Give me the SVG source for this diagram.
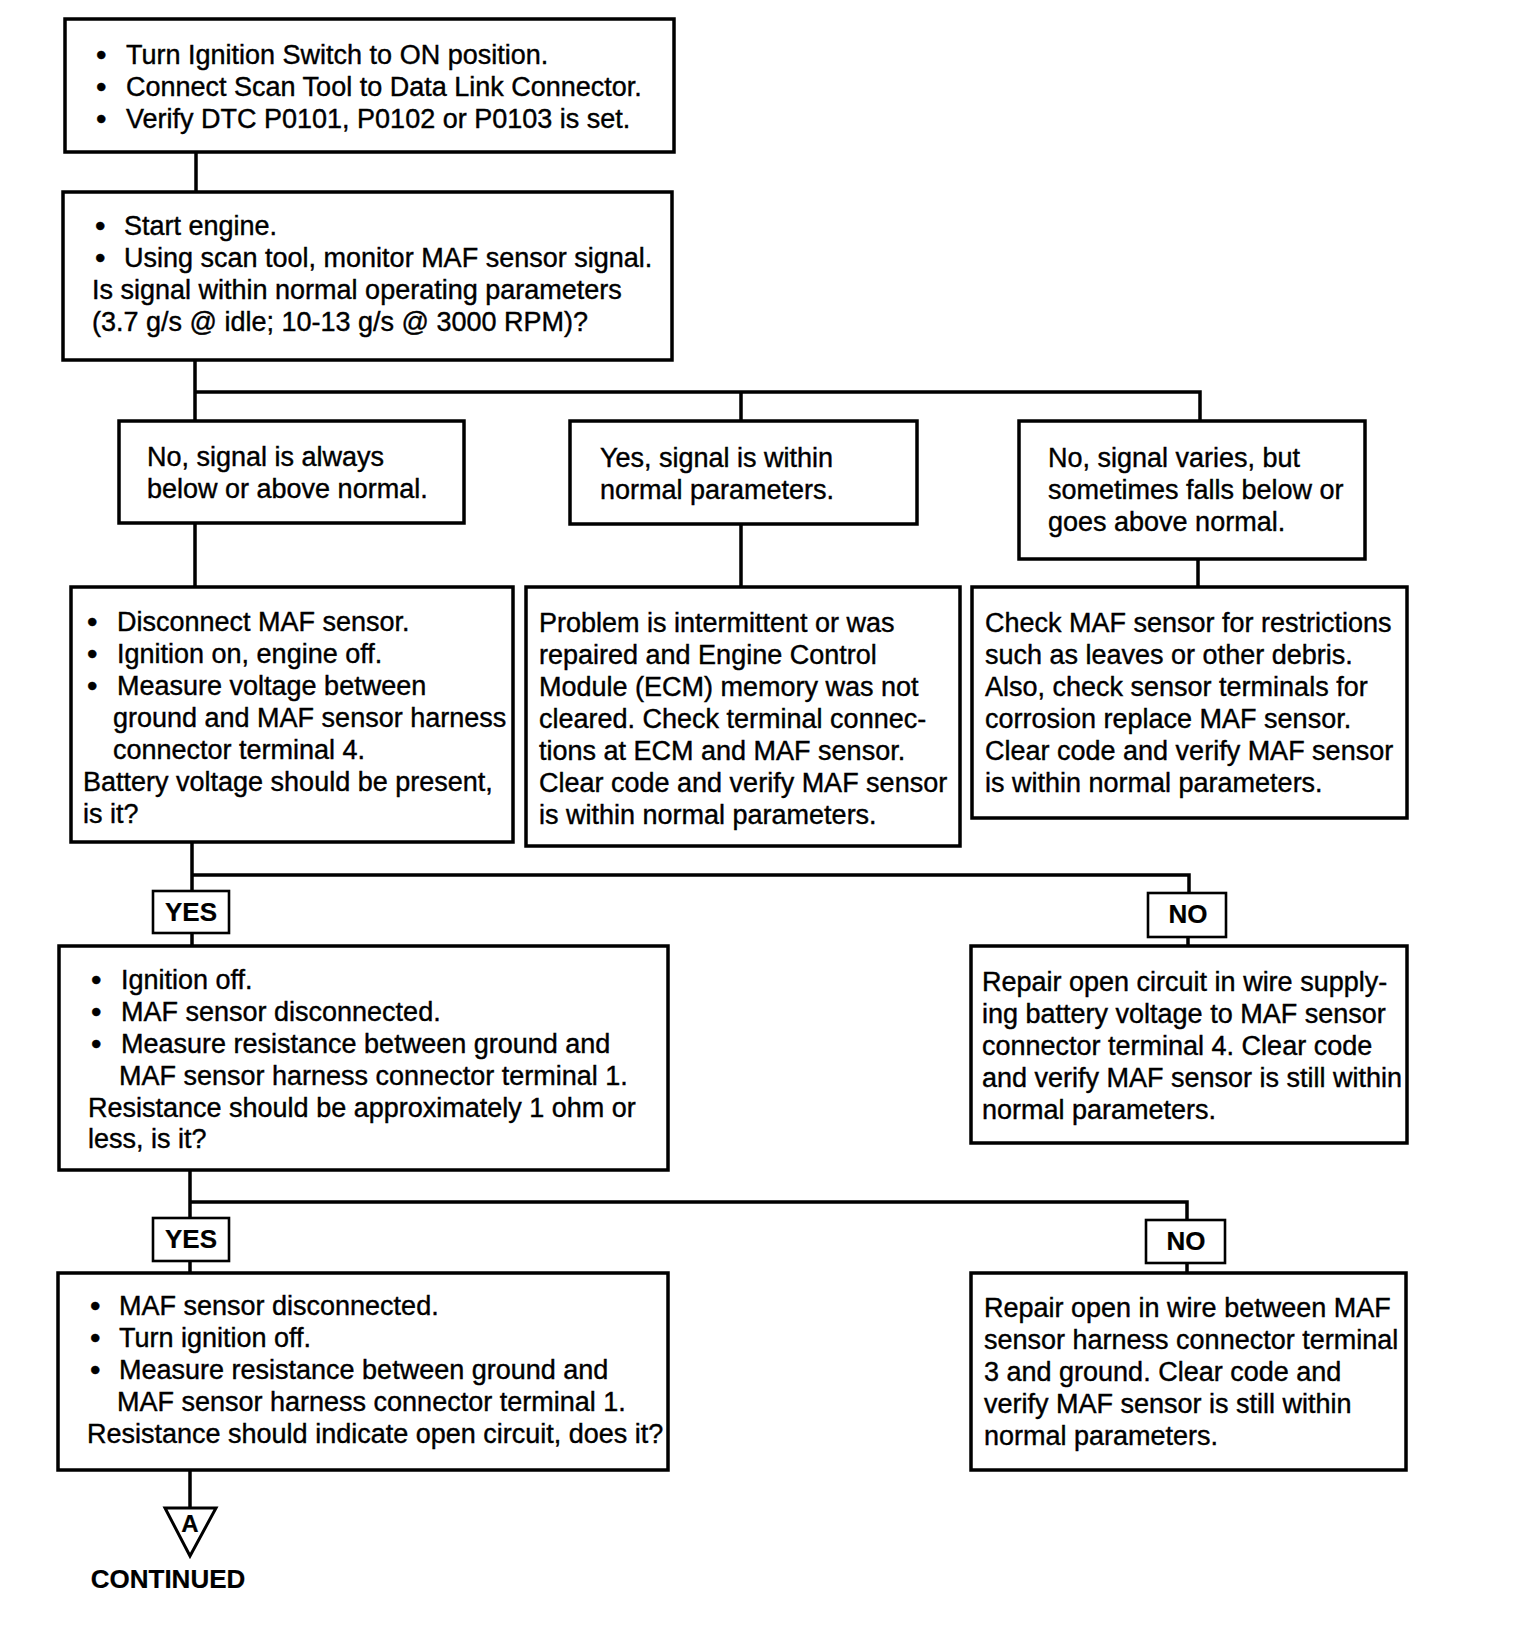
<svg xmlns="http://www.w3.org/2000/svg" width="1520" height="1644" viewBox="0 0 1520 1644">
<style>
.bx{fill:#fff;stroke:#000;stroke-width:3.5}
.lb{fill:#fff;stroke:#000;stroke-width:2.6}
.cn{fill:none;stroke:#000;stroke-width:3.5}
text{font-family:"Liberation Sans",Arial,sans-serif;font-size:27px;fill:#000;stroke:#000;stroke-width:0.4}
.u{font-size:30px}
.b{font-weight:bold;font-size:26px;text-anchor:middle;stroke-width:0.2}
</style>
<rect width="1520" height="1644" fill="#fff"/>
<g id="connectors">
<path class="cn" d="M196 152V192"/>
<path class="cn" d="M195 360V421M195 392H1200V421M741 392V421"/>
<path class="cn" d="M195 523V587M741 524V587M1198 559V587"/>
<path class="cn" d="M192 842V891M192 875H1189V893M192 933V946M1188 937V946"/>
<path class="cn" d="M190 1170V1218M190 1202H1187V1220M190 1261V1273M1187 1263V1273"/>
<path class="cn" d="M190 1470V1508"/>
</g>
<g id="n1">
<rect class="bx" x="65" y="19" width="609" height="133"/>
<text class="u" x="96" y="65">•</text><text x="126" y="64">Turn Ignition Switch to ON position.</text>
<text class="u" x="96" y="97">•</text><text x="126" y="96">Connect Scan Tool to Data Link Connector.</text>
<text class="u" x="96" y="129">•</text><text x="126" y="128">Verify DTC P0101, P0102 or P0103 is set.</text>
</g>
<g id="n2">
<rect class="bx" x="63" y="192" width="609" height="168"/>
<text class="u" x="95" y="236">•</text><text x="124" y="235">Start engine.</text>
<text class="u" x="95" y="268">•</text><text x="124" y="267">Using scan tool, monitor MAF sensor signal.</text>
<text x="92" y="299">Is signal within normal operating parameters</text>
<text x="92" y="331">(3.7 g/s @ idle; 10-13 g/s @ 3000 RPM)?</text>
</g>
<g id="n3a">
<rect class="bx" x="119" y="421" width="345" height="102"/>
<text x="147" y="466">No, signal is always</text>
<text x="147" y="498">below or above normal.</text>
</g>
<g id="n3b">
<rect class="bx" x="570" y="421" width="347" height="103"/>
<text x="600" y="467">Yes, signal is within</text>
<text x="600" y="499">normal parameters.</text>
</g>
<g id="n3c">
<rect class="bx" x="1019" y="421" width="346" height="138"/>
<text x="1048" y="467">No, signal varies, but</text>
<text x="1048" y="499">sometimes falls below or</text>
<text x="1048" y="531">goes above normal.</text>
</g>
<g id="n4a">
<rect class="bx" x="71" y="587" width="442" height="255"/>
<text class="u" x="87" y="632">•</text><text x="117" y="631">Disconnect MAF sensor.</text>
<text class="u" x="87" y="664">•</text><text x="117" y="663">Ignition on, engine off.</text>
<text class="u" x="87" y="696">•</text><text x="117" y="695">Measure voltage between</text>
<text x="113" y="727">ground and MAF sensor harness</text>
<text x="113" y="759">connector terminal 4.</text>
<text x="83" y="791">Battery voltage should be present,</text>
<text x="83" y="823">is it?</text>
</g>
<g id="n4b">
<rect class="bx" x="526" y="587" width="434" height="259"/>
<text x="539" y="632">Problem is intermittent or was</text>
<text x="539" y="664">repaired and Engine Control</text>
<text x="539" y="696">Module (ECM) memory was not</text>
<text x="539" y="728">cleared. Check terminal connec-</text>
<text x="539" y="760">tions at ECM and MAF sensor.</text>
<text x="539" y="792">Clear code and verify MAF sensor</text>
<text x="539" y="824">is within normal parameters.</text>
</g>
<g id="n4c">
<rect class="bx" x="972" y="587" width="435" height="231"/>
<text x="985" y="632">Check MAF sensor for restrictions</text>
<text x="985" y="664">such as leaves or other debris.</text>
<text x="985" y="696">Also, check sensor terminals for</text>
<text x="985" y="728">corrosion replace MAF sensor.</text>
<text x="985" y="760">Clear code and verify MAF sensor</text>
<text x="985" y="792">is within normal parameters.</text>
</g>
<g id="yes1">
<rect class="lb" x="153" y="891" width="76" height="42"/>
<text class="b" x="191" y="921">YES</text>
</g>
<g id="no1">
<rect class="lb" x="1148" y="893" width="78" height="44"/>
<text class="b" x="1188" y="923">NO</text>
</g>
<g id="n5a">
<rect class="bx" x="59" y="946" width="609" height="224"/>
<text class="u" x="91" y="990">•</text><text x="121" y="989">Ignition off.</text>
<text class="u" x="91" y="1022">•</text><text x="121" y="1021">MAF sensor disconnected.</text>
<text class="u" x="91" y="1054">•</text><text x="121" y="1053">Measure resistance between ground and</text>
<text x="119" y="1085">MAF sensor harness connector terminal 1.</text>
<text x="88" y="1117">Resistance should be approximately 1 ohm or</text>
<text x="88" y="1148">less, is it?</text>
</g>
<g id="n5b">
<rect class="bx" x="971" y="946" width="436" height="197"/>
<text x="982" y="991">Repair open circuit in wire supply-</text>
<text x="982" y="1023">ing battery voltage to MAF sensor</text>
<text x="982" y="1055">connector terminal 4. Clear code</text>
<text x="982" y="1087">and verify MAF sensor is still within</text>
<text x="982" y="1119">normal parameters.</text>
</g>
<g id="yes2">
<rect class="lb" x="153" y="1218" width="76" height="43"/>
<text class="b" x="191" y="1248">YES</text>
</g>
<g id="no2">
<rect class="lb" x="1146" y="1220" width="79" height="43"/>
<text class="b" x="1186" y="1250">NO</text>
</g>
<g id="n6a">
<rect class="bx" x="58" y="1273" width="610" height="197"/>
<text class="u" x="90" y="1316">•</text><text x="119" y="1315">MAF sensor disconnected.</text>
<text class="u" x="90" y="1348">•</text><text x="119" y="1347">Turn ignition off.</text>
<text class="u" x="90" y="1380">•</text><text x="119" y="1379">Measure resistance between ground and</text>
<text x="117" y="1411">MAF sensor harness connector terminal 1.</text>
<text x="87" y="1443">Resistance should indicate open circuit, does it?</text>
</g>
<g id="n6b">
<rect class="bx" x="971" y="1273" width="435" height="197"/>
<text x="984" y="1317">Repair open in wire between MAF</text>
<text x="984" y="1349">sensor harness connector terminal</text>
<text x="984" y="1381">3 and ground. Clear code and</text>
<text x="984" y="1413">verify MAF sensor is still within</text>
<text x="984" y="1445">normal parameters.</text>
</g>
<g id="contA">
<polygon points="165,1508 216,1508 190,1556" fill="#fff" stroke="#000" stroke-width="3"/>
<text class="b" x="190" y="1532" style="font-size:24px">A</text>
<text class="b" x="168" y="1588">CONTINUED</text>
</g>
</svg>
